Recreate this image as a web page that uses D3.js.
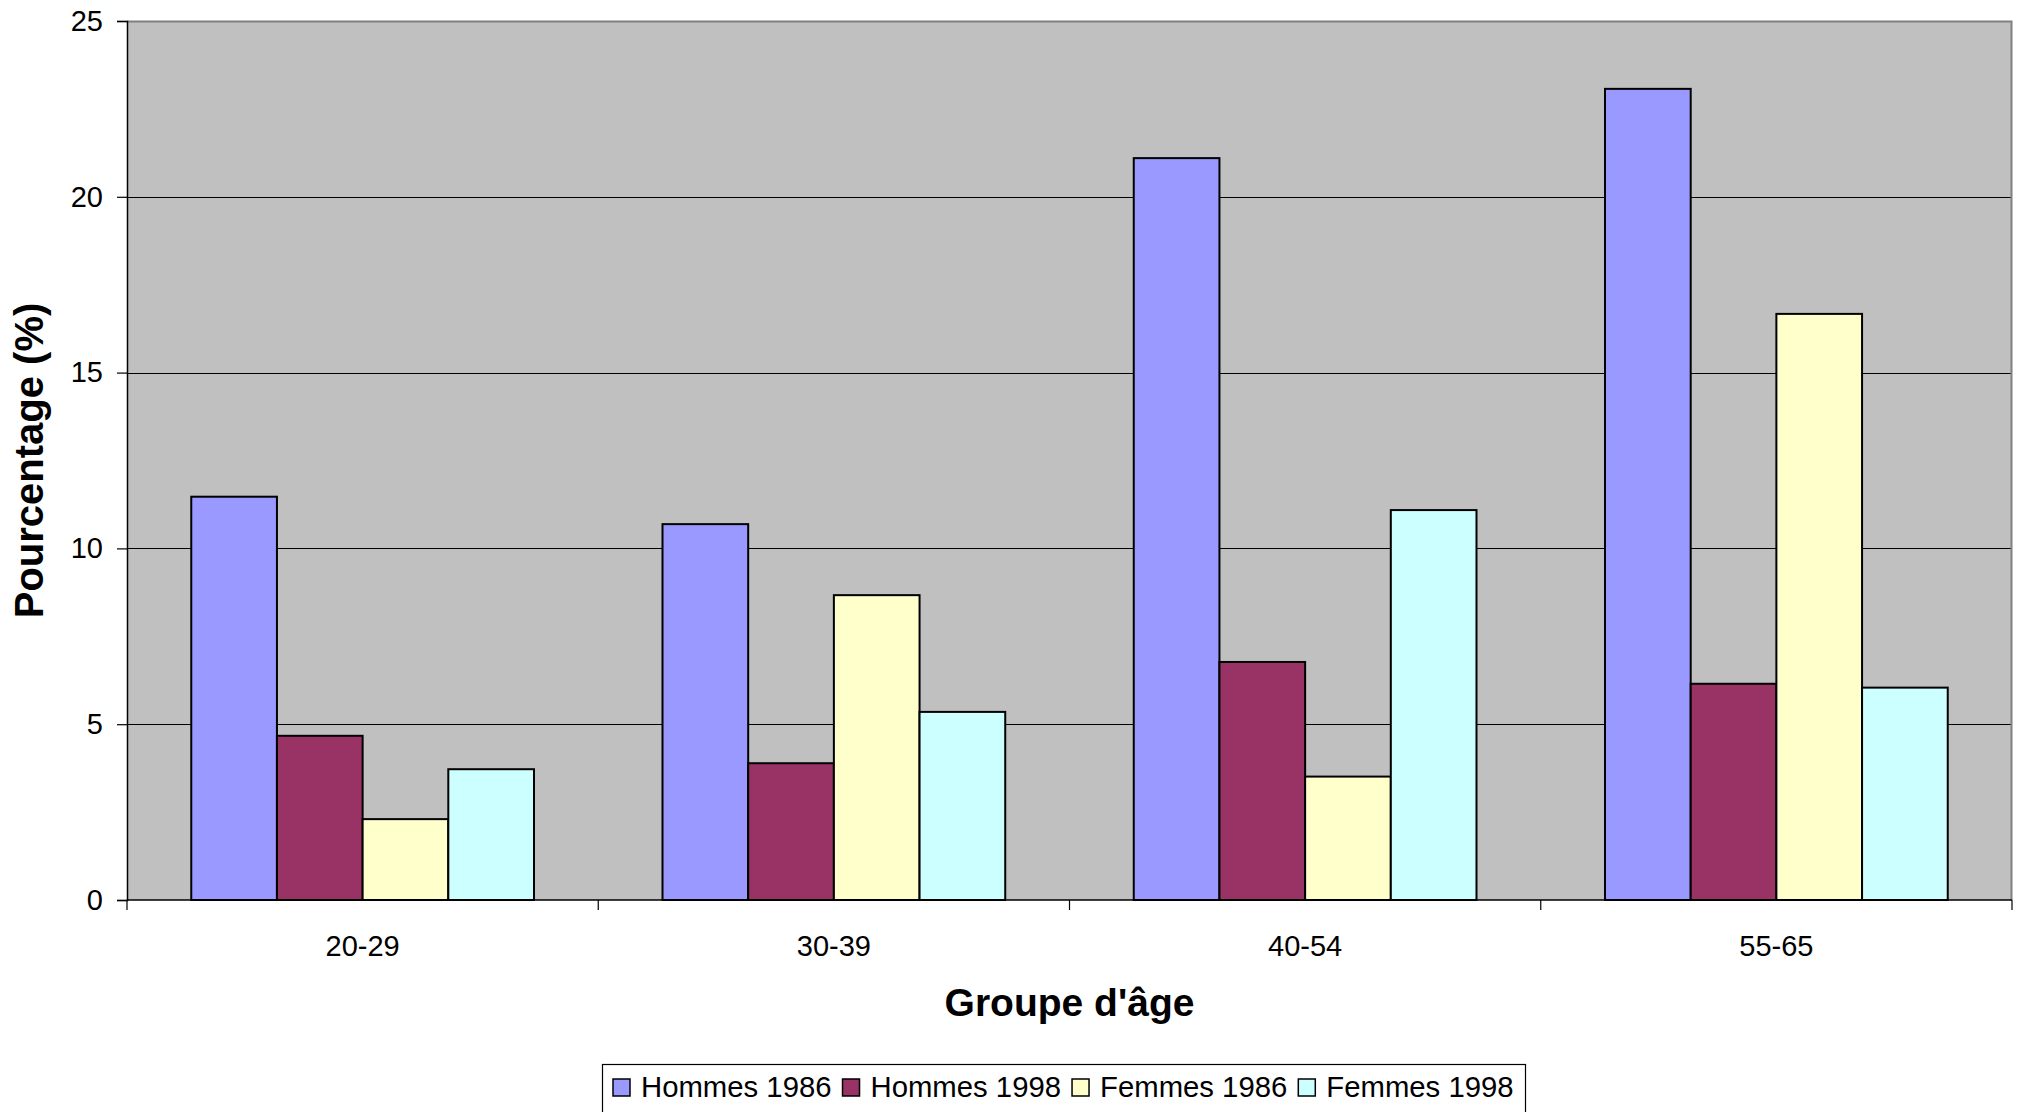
<!DOCTYPE html>
<html>
<head>
<meta charset="utf-8">
<script src="https://cdn.jsdelivr.net/npm/d3@7"></script>
<style>
  html, body { margin: 0; padding: 0; background: #fff; }
  svg { display: block; }
  text { font-family: "Liberation Sans", Arial, sans-serif; fill: #000; }
</style>
</head>
<body>
<svg id="chart" width="2018" height="1112"></svg>
<script>
const categories = ["20-29", "30-39", "40-54", "55-65"];
const seriesNames = ["Hommes 1986", "Hommes 1998", "Femmes 1986", "Femmes 1998"];
const hommes1986 = [11.47, 10.69, 21.10, 23.07];
const hommes1998 = [4.67, 3.89, 6.77, 6.15];
const femmes1986 = [2.30, 8.67, 3.51, 16.67];
const femmes1998 = [3.72, 5.35, 11.09, 6.04];
const yTicks = [0, 5, 10, 15, 20, 25];
const colors = ["#9999FF", "#993366", "#FFFFCC", "#CCFFFF"];

const seriesValues = [hommes1986, hommes1998, femmes1986, femmes1998];

const svg = d3.select("#chart");
const pLeft = 127, pRight = 2012, pTop = 21, pBottom = 900;

const x0 = d3.scaleBand().domain(categories).range([pLeft, pRight]).paddingInner(0).paddingOuter(0);
const x1 = d3.scaleBand().domain(seriesNames).range([0, x0.bandwidth()]).paddingInner(0).paddingOuter(0.75);
const y = d3.scaleLinear().domain([0, 25]).range([pBottom, pTop]);

// plot background
svg.append("rect").attr("x", pLeft).attr("y", pTop).attr("width", pRight - pLeft).attr("height", pBottom - pTop)
  .attr("fill", "#C0C0C0");

// gridlines
svg.append("g").selectAll("line").data(yTicks.filter(t => t > 0 && t < 25)).join("line")
  .attr("x1", pLeft).attr("x2", pRight)
  .attr("y1", d => Math.round(y(d)) + 0.5).attr("y2", d => Math.round(y(d)) + 0.5)
  .attr("stroke", "#000").attr("stroke-width", 1);

// top and right border
svg.append("path")
  .attr("d", `M${pLeft},${pTop + 0.5}H${pRight - 0.5}V${pBottom}`)
  .attr("fill", "none").attr("stroke", "#808080").attr("stroke-width", 2);

// bars
const groups = svg.append("g").selectAll("g").data(categories).join("g")
  .attr("transform", d => `translate(${x0(d)},0)`);
groups.selectAll("rect").data((c, ci) => seriesNames.map((s, si) => ({ s, si, v: seriesValues[si][ci] }))).join("rect")
  .attr("x", d => x1(d.s))
  .attr("width", x1.bandwidth())
  .attr("y", d => y(d.v))
  .attr("height", d => y(0) - y(d.v))
  .attr("fill", d => colors[d.si])
  .attr("stroke", "#000").attr("stroke-width", 2);

// y axis
const yAxis = d3.axisLeft(y).tickValues(yTicks).tickSize(10).tickPadding(14).tickFormat(d3.format("d"));
const gy = svg.append("g").attr("transform", `translate(${pLeft},0)`).call(yAxis);
gy.select(".domain").attr("stroke", "#000").attr("stroke-width", 1.5);
gy.selectAll(".tick line").attr("stroke", "#000").attr("stroke-width", 1.2);
gy.selectAll(".tick text").attr("font-size", 29).attr("font-family", "'Liberation Sans', Arial, sans-serif").attr("fill", "#000");

// x axis
const xAxis = d3.axisBottom(x0).tickSize(0).tickPadding(0);
const gx = svg.append("g").attr("transform", `translate(0,${pBottom})`).call(xAxis);
gx.select(".domain").remove();
gx.selectAll(".tick text").attr("font-size", 29).attr("font-family", "'Liberation Sans', Arial, sans-serif")
  .attr("fill", "#000").attr("dy", null).attr("y", 55.7);
svg.append("line").attr("x1", pLeft).attr("x2", pRight).attr("y1", pBottom).attr("y2", pBottom)
  .attr("stroke", "#000").attr("stroke-width", 1.5);
const boundaries = categories.map(c => x0(c)).concat([pRight]);
svg.append("g").selectAll("line").data(boundaries).join("line")
  .attr("x1", d => d).attr("x2", d => d).attr("y1", pBottom).attr("y2", pBottom + 10)
  .attr("stroke", "#000").attr("stroke-width", 1.2);

// axis titles
svg.append("text").attr("x", (pLeft + pRight) / 2).attr("y", 1016).attr("text-anchor", "middle")
  .attr("font-size", 39).attr("font-weight", "bold").text("Groupe d'âge");
svg.append("text").attr("transform", `translate(43,${(pTop + pBottom) / 2}) rotate(-90)`).attr("text-anchor", "middle")
  .attr("font-size", 40).attr("font-weight", "bold").text("Pourcentage (%)");

// legend
const legend = svg.append("g");
legend.append("rect").attr("x", 602.5).attr("y", 1064.5).attr("width", 923).attr("height", 80)
  .attr("fill", "#fff").attr("stroke", "#000").attr("stroke-width", 1.2);
let lx = 613;
seriesNames.forEach((s, i) => {
  legend.append("rect").attr("x", lx).attr("y", 1079).attr("width", 17).attr("height", 17)
    .attr("fill", colors[i]).attr("stroke", "#000").attr("stroke-width", 1.5);
  const t = legend.append("text").attr("x", lx + 28).attr("y", 1097).attr("font-size", 29.3).text(s);
  lx = lx + 28 + t.node().getComputedTextLength() + 11;
});
</script>
</body>
</html>
